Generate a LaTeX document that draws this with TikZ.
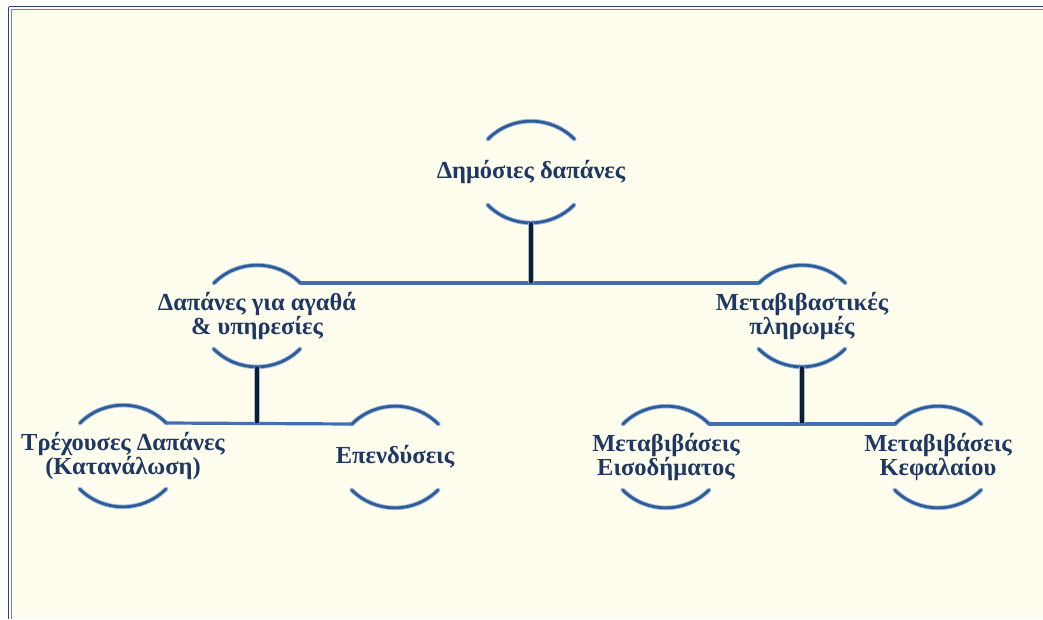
\documentclass[tikz,border=0pt]{standalone}
\usepackage{fontspec}
\setmainfont{Liberation Serif}
\usetikzlibrary{calc}
\definecolor{paper}{HTML}{FFFEEE}
\definecolor{ink}{HTML}{1F3763}
\definecolor{arcdark}{HTML}{2E5C99}
\definecolor{arclight}{HTML}{A3BCDD}
\definecolor{busblue}{HTML}{4170B0}
\definecolor{stemdark}{HTML}{111E2C}
\definecolor{framedark}{HTML}{2B3F7A}
\definecolor{framelight}{HTML}{7384AE}
\begin{document}
\begin{tikzpicture}[x=1pt, y=-1pt,
    ring/.style={rectangle, minimum width=86pt, minimum height=102pt, inner sep=0pt,
        font=\bfseries\fontsize{24.5}{24}\selectfont, text=ink, align=center},
    arcglow/.style={line width=4.6pt, color=arclight, line cap=round},
    arcline/.style={line width=2.8pt, color=arcdark, line cap=round},
    busline/.style={line width=3.2pt, color=busblue},
    stemglow/.style={line width=5.4pt, color=arclight},
    stemline/.style={line width=3.4pt, color=stemdark}]
    \def\arcradius{61}

    \useasboundingbox (0,0) rectangle (1043,619);
    \fill[white] (0,0) rectangle (1043,619);
    \fill[paper] (9,7) rectangle (1043,619);
    \draw[framedark, line width=1.3pt] (8.7,6.6) -- (8.7,619) (8.7,6.6) -- (1043,6.6);
    \draw[framelight, line width=1.2pt] (11.6,9.4) -- (11.6,619) (11.6,9.4) -- (1043,9.4);

    \node[ring] (top) at (531,172) {Δημόσιες δαπάνες};
    \node[ring] (goods) at (257,316) {Δαπάνες για αγαθά\\\& υπηρεσίες};
    \node[ring] (transfers) at (802,316) {Μεταβιβαστικές\\πληρωμές};
    \node[ring] (current) at (123,456) {Τρέχουσες Δαπάνες\\(Κατανάλωση)};
    \node[ring] (invest) at (395,457) {Επενδύσεις};
    \node[ring] (income) at (666,457) {Μεταβιβάσεις\\Εισοδήματος};
    \node[ring] (capital) at (938,457) {Μεταβιβάσεις\\Κεφαλαίου};

    \foreach \n in {top,goods,transfers,current,invest,income,capital}{
        \foreach \s in {arcglow,arcline}{
            \draw[\s] ($(\n.center)+(-43,-33)$) arc[start angle=225, end angle=315, radius=\arcradius];
            \draw[\s] ($(\n.center)+(43,33)$) arc[start angle=45, end angle=135, radius=\arcradius];
        }
    }

    \coordinate (bustop) at ($(top.south)+(0,60)$);
    \coordinate (busgoods) at ($(goods.south)+(0,56)$);
    \coordinate (bustransfers) at ($(transfers.south)+(0,56)$);

    \draw[busline] ($(goods.center)+(43,-33)$) -- ($(transfers.center)+(-43,-33)$);
    \draw[busline] ($(current.center)+(43,-33)$) -- ($(invest.center)+(-43,-33)$);
    \draw[busline] ($(income.center)+(43,-33)$) -- ($(capital.center)+(-43,-33)$);

    \foreach \a/\b in {top/bustop,goods/busgoods,transfers/bustransfers}{
        \draw[stemglow] (\a.south) -- (\b);
        \draw[stemline] (\a.south) -- (\b);
    }
\end{tikzpicture}
\end{document}
